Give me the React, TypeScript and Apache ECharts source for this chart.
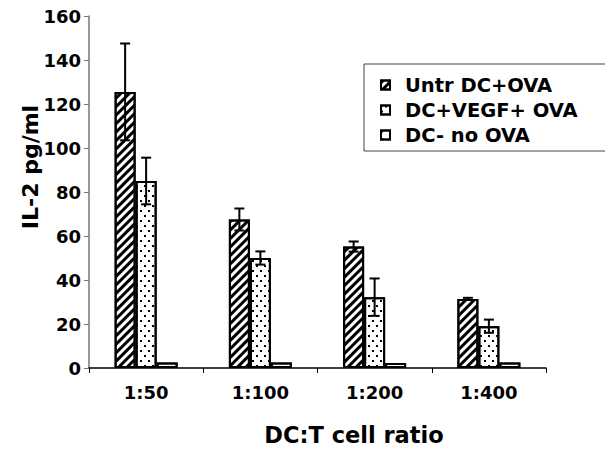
import React, { useEffect, useRef } from "react";
import * as echarts from "echarts";

const categories = ["1:50", "1:100", "1:200", "1:400"];
const seriesNames = ["Untr DC+OVA", "DC+VEGF+ OVA", "DC- no OVA"];
const untrValues = [125.5, 67.5, 55.2, 31.4];
const untrErrors = [22, 5, 2.3, 0.5];
const vegfValues = [85, 50, 32.2, 19];
const vegfErrors = [10.6, 3, 8.5, 3];
const noOvaValues = [2.5, 2.5, 2.3, 2.5];
const noOvaErrors = [0, 0, 0, 0];
const yTicks = [0, 20, 40, 60, 80, 100, 120, 140, 160];

const FONT = "DejaVu Sans";
const BAR_W = 21;

export default function App() {
  const ref = useRef<HTMLDivElement>(null);
  useEffect(() => {
    if (!ref.current) return;
    const chart = echarts.init(ref.current, null, { renderer: "svg" });

    const decals: any[] = [
      {
        symbol: "rect",
        symbolSize: 1,
        dashArrayX: [1, 0],
        dashArrayY: [3, 3],
        rotation: -Math.PI / 4,
        color: "#000",
        backgroundColor: "#fff",
      },
      {
        symbol: "rect",
        symbolSize: 1,
        dashArrayX: [
          [2, 6],
          [0, 4, 2, 2],
        ],
        dashArrayY: [2, 3],
        rotation: 0,
        color: "#000",
        backgroundColor: "#fff",
      },
      {
        symbol: "rect",
        symbolSize: 1,
        dashArrayX: [2, 8],
        dashArrayY: [2, 6],
        rotation: 0,
        color: "#000",
        backgroundColor: "#fff",
      },
    ];
    const valueSets = [untrValues, vegfValues, noOvaValues];
    const errSets = [untrErrors, vegfErrors, noOvaErrors];

    const barSeries = valueSets.map((vals, i) => ({
      type: "bar",
      name: seriesNames[i],
      data: vals,
      barWidth: BAR_W,
      barGap: "0%",
      itemStyle: {
        color: "#fff",
        borderColor: "#000",
        borderWidth: 2,
        decal: decals[i],
      },
    }));

    const errSeries = errSets.map((errs, i) => ({
      type: "custom",
      name: "err" + i,
      z: 5,
      data: errs.map((e, k) => [k, valueSets[i][k], e]),
      renderItem: (params: any, api: any) => {
        const e = api.value(2);
        if (!e) return null;
        const v = api.value(1);
        const idx = api.value(0);
        const off = (i - 1) * BAR_W;
        const top = api.coord([idx, v + e]);
        const bot = api.coord([idx, v - e]);
        const x = top[0] + off;
        const cap = 5;
        const style = { stroke: "#000", lineWidth: 2 };
        return {
          type: "group",
          children: [
            { type: "line", shape: { x1: x, y1: top[1], x2: x, y2: bot[1] }, style },
            { type: "line", shape: { x1: x - cap, y1: top[1], x2: x + cap, y2: top[1] }, style },
            { type: "line", shape: { x1: x - cap, y1: bot[1], x2: x + cap, y2: bot[1] }, style },
          ],
        };
      },
    }));

    chart.setOption({
      animation: false,
      backgroundColor: "#fff",
      grid: { left: 89, right: 59, top: 16, bottom: 82 },
      legend: {
        data: seriesNames,
        orient: "vertical",
        left: 364,
        top: 64,
        padding: [11, 40, 6, 16],
        itemGap: 5,
        itemWidth: 9,
        itemHeight: 9,
        borderColor: "#444",
        borderWidth: 1,
        icon: "rect",
        textStyle: {
          fontFamily: FONT,
          fontWeight: "bold",
          fontSize: 19.5,
          lineHeight: 20,
          color: "#000",
          padding: [0, 0, 0, 10],
        },
      },
      xAxis: {
        type: "category",
        data: categories,
        axisLine: { lineStyle: { color: "#000", width: 1.5 } },
        axisTick: { show: true, length: 5, alignWithLabel: false, lineStyle: { color: "#000" } },
        axisLabel: {
          fontFamily: FONT,
          fontWeight: "bold",
          fontSize: 18,
          color: "#000",
          margin: 15,
        },
      },
      yAxis: {
        type: "value",
        min: 0,
        max: 160,
        interval: 20,
        splitLine: { show: false },
        axisLine: { show: true, lineStyle: { color: "#777", width: 1.5 } },
        axisTick: { show: true, length: 5, lineStyle: { color: "#777" } },
        axisLabel: {
          fontFamily: FONT,
          fontWeight: "bold",
          fontSize: 18,
          color: "#000",
          margin: 8,
          formatter: (v: number) => (yTicks.includes(v) ? String(v) : ""),
        },
      },
      graphic: [
        {
          type: "text",
          x: 30,
          y: 167,
          rotation: Math.PI / 2,
          style: {
            text: "IL-2 pg/ml",
            fontFamily: FONT,
            fontWeight: "bold",
            fontSize: 22,
            fill: "#000",
            align: "center",
            verticalAlign: "middle",
          },
        },
        {
          type: "text",
          x: 354,
          y: 435,
          style: {
            text: "DC:T cell ratio",
            fontFamily: FONT,
            fontWeight: "bold",
            fontSize: 22.5,
            fill: "#000",
            align: "center",
            verticalAlign: "middle",
          },
        },
      ],
      series: [...barSeries, ...errSeries],
    });
    return () => chart.dispose();
  }, []);
  return (
    <div
      ref={ref}
      style={{ position: "fixed", left: 0, top: 0, width: 605, height: 450, background: "#fff" }}
    />
  );
}
